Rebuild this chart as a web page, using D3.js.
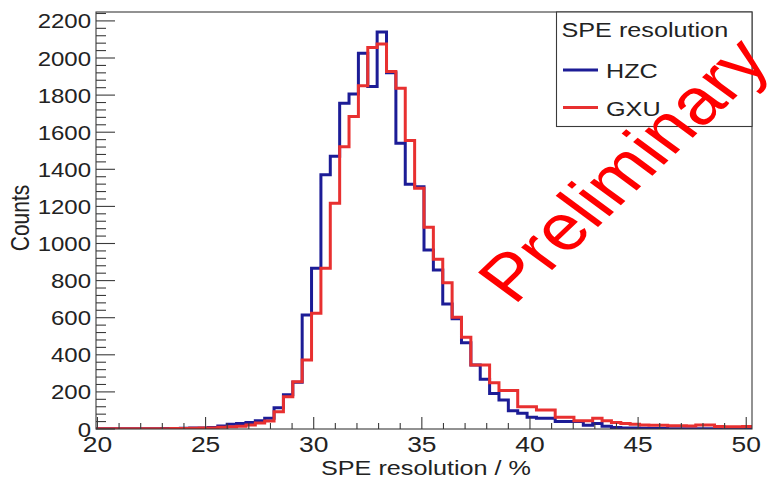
<!DOCTYPE html>
<html>
<head>
<meta charset="utf-8">
<script src="https://cdn.jsdelivr.net/npm/d3@7"></script>
<style>
  html, body { margin: 0; padding: 0; background: #fff; }
  svg { display: block; font-family: "Liberation Sans", Arial, Helvetica, sans-serif; }
</style>
</head>
<body>
<svg id="chart" width="768" height="484"></svg>
<script>
// binning of the histograms (120 bins over 0..52, only 70 of them shown)
var binWidth = 52 / 120;
var firstBin = 46;

// counts per bin, left to right
var hzcCounts = [1, 1, 1, 1, 2, 2, 2, 3, 3, 4, 5, 6, 8,
  16, 25, 30, 35, 45, 58, 115, 185, 252, 615, 866, 1370, 1470, 1756, 1806,
  2026, 1846, 2140, 1920, 1540, 1320, 1306, 965, 857, 674, 595, 465, 345,
  268, 192, 156, 99, 85, 63, 58, 58, 40, 40, 40, 20, 30, 15, 8,
  6, 5, 4, 3, 3, 2, 2, 2, 2, 1, 1, 1, 1, 1];
var gxuCounts = [1, 1, 1, 1, 1, 2, 2, 2, 3, 3, 4, 5, 6,
  10, 12, 15, 22, 32, 43, 93, 174, 255, 372, 624, 866, 1217, 1522, 1684,
  1851, 2056, 2076, 1927, 1837, 1555, 1298, 1088, 915, 789, 602, 494, 345,
  345, 250, 207, 207, 120, 120, 102, 102, 63, 63, 45, 45, 58, 45, 35,
  30, 25, 22, 20, 20, 18, 18, 16, 22, 22, 14, 12, 12, 14];

var xTicks = [20, 25, 30, 35, 40, 45, 50];
var yTicks = [0, 200, 400, 600, 800, 1000, 1200, 1400, 1600, 1800, 2000, 2200];
var seriesNames = ["HZC", "GXU"];
var seriesColors = ["#1c1c96", "#e83030"];

var svg = d3.select("#chart");
var pL = 96, pR = 752, pT = 12, pB = 429;
var sx = 1.2; // the picture is wider than it is tall, text too

var xLo = firstBin * binWidth;
var xHi = (firstBin + hzcCounts.length) * binWidth;
var x = d3.scaleLinear().domain([xLo, xHi]).range([pL, pR]);
var y = d3.scaleLinear().domain([0, 2248]).range([pB, pT]);

function label(g, px, py, txt, size, anchor, rot) {
  return g.append("g")
    .attr("transform", "translate(" + px + "," + py + ") scale(" + sx + ",1)" + (rot ? " rotate(" + rot + ")" : ""))
    .append("text")
    .attr("text-anchor", anchor)
    .attr("font-size", size)
    .attr("fill", "#222")
    .text(txt);
}

// histograms
svg.append("clipPath").attr("id", "frame")
  .append("rect").attr("x", pL).attr("y", pT).attr("width", pR - pL).attr("height", pB - pT);

var line = d3.line()
  .x(function(d) { return x(d[0]); })
  .y(function(d) { return y(d[1]); })
  .curve(d3.curveStepAfter);

[hzcCounts, gxuCounts].forEach(function(counts, i) {
  var pts = counts.map(function(v, j) { return [(firstBin + j) * binWidth, v]; });
  pts.push([(firstBin + counts.length) * binWidth, counts[counts.length - 1]]);
  svg.append("path")
    .datum(pts)
    .attr("clip-path", "url(#frame)")
    .attr("fill", "none")
    .attr("stroke", seriesColors[i])
    .attr("stroke-width", 3)
    .attr("d", line);
});

// axes
var axes = svg.append("g").attr("stroke", "#3a3a3a").attr("stroke-width", 1.1).attr("fill", "none");
axes.append("rect").attr("x", pL).attr("y", pT).attr("width", pR - pL).attr("height", pB - pT);

d3.range(20, 51, 1).forEach(function(v) {
  var major = v % 5 === 0;
  axes.append("line").attr("x1", x(v)).attr("x2", x(v))
    .attr("y1", pB).attr("y2", pB - (major ? 12 : 6));
});
d3.range(0, 2241, 40).forEach(function(v) {
  var major = v % 200 === 0;
  axes.append("line").attr("x1", pL).attr("x2", pL + (major ? 19 : 10))
    .attr("y1", y(v)).attr("y2", y(v));
});

var labels = svg.append("g");
xTicks.forEach(function(v) { label(labels, x(v), 452, v, 22, "middle"); });
yTicks.forEach(function(v) { label(labels, 91, y(v) + 7.5, v, 20, "end"); });
label(labels, 426, 475, "SPE resolution / %", 21, "middle");
label(labels, 29, 218, "Counts", 21, "middle", -90);

// legend
var leg = svg.append("g");
leg.append("rect").attr("x", 556.5).attr("y", pT).attr("width", pR - 556.5).attr("height", 126.5 - pT)
  .attr("fill", "#fff").attr("stroke", "#3a3a3a").attr("stroke-width", 1.1);
label(leg, 561.5, 37, "SPE resolution", 21, "start");
seriesNames.forEach(function(name, i) {
  var ly = 70 + i * 37.5;
  leg.append("line").attr("x1", 563).attr("x2", 598).attr("y1", ly).attr("y2", ly)
    .attr("stroke", seriesColors[i]).attr("stroke-width", 3);
  label(leg, 606, ly + 8, name, 21, "start");
});

// watermark
svg.append("g")
  .attr("transform", "translate(514,306) scale(" + sx + ",1) rotate(-48.5)")
  .append("text")
  .attr("font-size", 65)
  .attr("fill", "#ff0000")
  .text("Preliminary");
</script>
</body>
</html>
